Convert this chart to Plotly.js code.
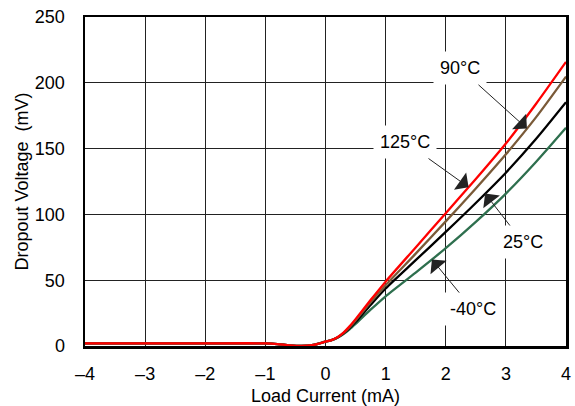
<!DOCTYPE html>
<html>
<head>
<meta charset="utf-8">
<script src="https://cdn.plot.ly/plotly-3.0.1.min.js"></script>
<style>html,body{margin:0;padding:0;background:#fff;}#chart{width:575px;height:406px;}</style>
</head>
<body>
<div id="chart"></div>
<script>
// Load current (mA)
const loadCurrent = [-4, -3, -2, -1, -0.8, -0.6, -0.4, -0.2, 0, 0.1, 0.2, 0.3, 0.4, 0.5, 0.75, 1, 1.5, 2, 2.5, 3, 3.5, 4];
// Dropout voltage (mV) per temperature
const dropout125 = [2, 2, 2, 2, 1.5, 0.5, 0, 0.8, 3.3, 4.5, 6.7, 10.2, 14.9, 20.4, 34.9, 48.9, 74.9, 100.9, 126.9, 153.9, 183.9, 215.9];
const dropout90  = [2, 2, 2, 2, 1.5, 0.5, 0, 0.8, 3.3, 4.5, 6.6, 9.9, 14.3, 19.4, 33.2, 46.2, 70.2, 94.7, 119.7, 145.7, 173.7, 204.7];
const dropout25  = [2, 2, 2, 2, 1.5, 0.5, 0, 0.8, 3.3, 4.5, 6.5, 9.6, 13.6, 18.2, 31.2, 43.7, 65.2, 86.7, 108.7, 131.7, 157.2, 185.2];
const dropoutM40 = [2, 2, 2, 2, 1.5, 0.5, 0, 0.8, 3.3, 4.4, 6.3, 9.1, 12.7, 16.8, 27.6, 37.8, 55.8, 74.3, 94.3, 115.8, 139.8, 165.8];

const xTickVals = [-4, -3, -2, -1, 0, 1, 2, 3, 4];
const xTickText = ['\u20134', '\u20133', '\u20132', '\u20131', '0', '1', '2', '3', '4'];
const yTickVals = [0, 50, 100, 150, 200, 250];

const seriesNames = ['-40°C', '25°C', '90°C', '125°C'];

function interp(xs, ys, x) {
  for (let i = 0; i < xs.length - 1; i++) {
    if (x >= xs[i] && x <= xs[i + 1]) {
      const t = (x - xs[i]) / (xs[i + 1] - xs[i]);
      return ys[i] + t * (ys[i + 1] - ys[i]);
    }
  }
  return ys[ys.length - 1];
}

const font = {family: 'Liberation Sans, Arial, Helvetica, sans-serif', size: 18, color: '#000'};

function tr(y, color, name) {
  return {x: loadCurrent, y: y, type: 'scatter', mode: 'lines', name: name,
    line: {color: color, width: 2.3, shape: 'spline', smoothing: 0.7}, hoverinfo: 'skip'};
}

const data = [
  tr(dropoutM40, '#2e6f4e', seriesNames[0]),
  tr(dropout25, '#000000', seriesNames[1]),
  tr(dropout90, '#7a5a38', seriesNames[2]),
  tr(dropout125, '#ff0000', seriesNames[3])
];

function ann(text, tipX, series, tx, ty) {
  return {
    text: text, x: tipX, y: interp(loadCurrent, series, tipX), xref: 'x', yref: 'y',
    ax: tx, ay: ty, axref: 'x', ayref: 'y',
    showarrow: true, arrowhead: 1, arrowsize: 3.5, arrowwidth: 1, arrowcolor: '#222',
    bgcolor: '#ffffff', borderpad: 6, font: font
  };
}

const layout = {
  width: 575, height: 406,
  margin: {l: 85, r: 9, t: 17, b: 60},
  paper_bgcolor: '#fff', plot_bgcolor: '#fff',
  showlegend: false,
  font: font,
  xaxis: {
    range: [-4, 4], tickvals: xTickVals, ticktext: xTickText,
    showgrid: true, gridcolor: '#222', gridwidth: 1, zeroline: false,
    showline: true, mirror: true, linecolor: '#000', linewidth: 2.5,
    ticks: 'outside', ticklen: 10, tickcolor: 'rgba(0,0,0,0)',
    title: {text: 'Load Current (mA)', font: font, standoff: 8},
    fixedrange: true
  },
  yaxis: {
    range: [0, 250], tickvals: yTickVals,
    showgrid: true, gridcolor: '#222', gridwidth: 1, zeroline: false,
    showline: true, mirror: true, linecolor: '#000', linewidth: 2.5,
    ticks: 'outside', ticklen: 14, tickcolor: 'rgba(0,0,0,0)',
    title: {text: 'Dropout Voltage  (mV)', font: font, standoff: 2},
    fixedrange: true
  },
  annotations: [
    ann('90°C', 3.35, dropout90, 2.24, 211),
    ann('125°C', 2.38, dropout125, 1.33, 155),
    ann('25°C', 2.655, dropout25, 3.28, 79),
    ann('-40°C', 1.77, dropoutM40, 2.45, 28)
  ]
};

Plotly.newPlot('chart', data, layout, {staticPlot: true, displayModeBar: false});
</script>
</body>
</html>
